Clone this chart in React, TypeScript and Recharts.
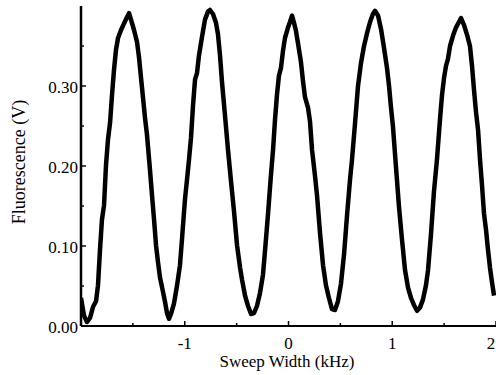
import { LineChart, Line, XAxis, YAxis, Label } from 'recharts';

// Sweep width (kHz)
const sweep = [
  -2.0, -1.971, -1.942, -1.913, -1.884, -1.855, -1.836, -1.817, -1.798, -1.778,
  -1.759, -1.74, -1.72, -1.701, -1.682, -1.663, -1.643, -1.614, -1.586, -1.557,
  -1.537, -1.518, -1.489, -1.46, -1.441, -1.422, -1.402, -1.383, -1.364, -1.335,
  -1.316, -1.296, -1.277, -1.258, -1.239, -1.21, -1.19, -1.171, -1.152, -1.133,
  -1.104, -1.075, -1.046, -1.027, -0.998, -0.978, -0.959, -0.94, -0.92, -0.901,
  -0.882, -0.863, -0.834, -0.805, -0.776, -0.757, -0.728, -0.699, -0.68, -0.66,
  -0.641, -0.612, -0.583, -0.554, -0.525, -0.496, -0.467, -0.448, -0.419, -0.39,
  -0.361, -0.333, -0.304, -0.275, -0.246, -0.227, -0.198, -0.169, -0.149, -0.13,
  -0.111, -0.092, -0.072, -0.053, -0.034, -0.005, 0.014, 0.034, 0.053, 0.072,
  0.092, 0.12, 0.14, 0.159, 0.188, 0.207, 0.227, 0.255, 0.275, 0.304,
  0.333, 0.361, 0.39, 0.419, 0.448, 0.477, 0.506, 0.535, 0.564, 0.593,
  0.612, 0.641, 0.67, 0.699, 0.728, 0.757, 0.786, 0.814, 0.834, 0.863,
  0.892, 0.92, 0.949, 0.969, 0.988, 1.007, 1.036, 1.065, 1.094, 1.123,
  1.152, 1.181, 1.21, 1.239, 1.267, 1.296, 1.325, 1.345, 1.373, 1.402,
  1.431, 1.46, 1.48, 1.499, 1.518, 1.537, 1.557, 1.586, 1.614, 1.643,
  1.663, 1.692, 1.721, 1.749, 1.769, 1.788, 1.807, 1.827, 1.846, 1.865,
  1.884, 1.904, 1.923, 1.942, 1.961, 1.981,
];

// Fluorescence (V)
const fluorescence = [
  0.035, 0.013, 0.005, 0.01, 0.024, 0.031, 0.051, 0.095, 0.133, 0.151,
  0.201, 0.233, 0.254, 0.289, 0.32, 0.345, 0.36, 0.37, 0.378, 0.386,
  0.391, 0.383, 0.37, 0.355, 0.336, 0.311, 0.285, 0.26, 0.239, 0.195,
  0.164, 0.133, 0.101, 0.08, 0.061, 0.043, 0.03, 0.016, 0.009, 0.015,
  0.028, 0.05, 0.076, 0.108, 0.158, 0.183, 0.208, 0.235, 0.276, 0.308,
  0.316, 0.338, 0.361, 0.383, 0.393, 0.395, 0.39, 0.379, 0.365, 0.338,
  0.305, 0.263, 0.22, 0.181, 0.143, 0.101, 0.073, 0.058, 0.038, 0.025,
  0.015, 0.016, 0.025, 0.041, 0.064, 0.093, 0.139, 0.189, 0.22, 0.258,
  0.289, 0.313, 0.323, 0.344, 0.36, 0.373, 0.38, 0.388, 0.379, 0.369,
  0.353, 0.33, 0.306, 0.286, 0.273, 0.256, 0.22, 0.188, 0.163, 0.116,
  0.076, 0.051, 0.035, 0.021, 0.02, 0.031, 0.053, 0.089, 0.138, 0.183,
  0.208, 0.253, 0.3, 0.329, 0.35, 0.366, 0.38, 0.39, 0.394, 0.388,
  0.371, 0.348, 0.323, 0.3, 0.273, 0.249, 0.199, 0.149, 0.108, 0.07,
  0.048, 0.035, 0.026, 0.019, 0.023, 0.033, 0.051, 0.07, 0.114, 0.168,
  0.208, 0.258, 0.289, 0.31, 0.325, 0.334, 0.35, 0.363, 0.373, 0.38,
  0.385, 0.376, 0.364, 0.35, 0.325, 0.295, 0.268, 0.245, 0.208, 0.176,
  0.141, 0.12, 0.095, 0.073, 0.055, 0.038,
];

const xTicks = [-2, -1.5, -1, -0.5, 0, 0.5, 1, 1.5, 2];
const xLabels = ['', '', '-1', '', '0', '', '1', '', '2'];
const yTicks = [0, 0.05, 0.1, 0.15, 0.2, 0.25, 0.3, 0.35];
const yLabels = ['0.00', '', '0.10', '', '0.20', '', '0.30', ''];

const data = sweep.map((s, i) => ({ sweep: s, value: fluorescence[i] }));

const SERIF = 'Liberation Serif';

function XTick(props: any) {
  const { x, y, index } = props;
  const label = xLabels[index];
  const len = label ? 5 : 3;
  // keep the last label inside the frame
  const tx = index === xTicks.length - 1 ? x - 5 : x;
  return (
    <g>
      <line x1={x} x2={x} y1={y} y2={y - len} stroke="#000" strokeWidth={1.5} />
      {label && (
        <text x={tx} y={y + 23} textAnchor="middle" fontFamily={SERIF} fontSize={17} fill="#000">
          {label}
        </text>
      )}
    </g>
  );
}

function YTick(props: any) {
  const { x, y, index } = props;
  const label = yLabels[index];
  const len = label ? 5 : 3;
  return (
    <g>
      <line x1={x} x2={x + len} y1={y} y2={y} stroke="#000" strokeWidth={1.5} />
      {label && (
        <text x={x - 3} y={y + 7} textAnchor="end" fontFamily={SERIF} fontSize={17} fill="#000">
          {label}
        </text>
      )}
    </g>
  );
}

export default function App() {
  return (
    <div style={{ position: 'absolute', left: 0, top: 0, background: '#fff', fontFamily: 'Liberation Serif, serif' }}>
      <LineChart width={496} height={375} data={data} margin={{ top: 6, right: 0, bottom: 0, left: 0 }}>
        <XAxis
          dataKey="sweep"
          type="number"
          domain={[-2, 2]}
          ticks={xTicks}
          interval={0}
          height={49}
          tickSize={0}
          tickMargin={0}
          tickLine={false}
          tick={<XTick />}
          axisLine={{ stroke: '#000', strokeWidth: 2 }}
          allowDataOverflow
        >
          <Label
            content={() => (
              <text x={287} y={367} textAnchor="middle" fontFamily={SERIF} fontSize={17} fill="#000">
                Sweep Width (kHz)
              </text>
            )}
          />
        </XAxis>
        <YAxis
          type="number"
          domain={[0, 0.4]}
          ticks={yTicks}
          interval={0}
          width={81}
          tickSize={0}
          tickMargin={0}
          tickLine={false}
          tick={<YTick />}
          axisLine={{ stroke: '#000', strokeWidth: 2.5 }}
          allowDataOverflow
        >
          <Label
            content={() => (
              <text
                x={25}
                y={162}
                transform="rotate(-90 25 162)"
                textAnchor="middle"
                fontFamily={SERIF}
                fontSize={18}
                fill="#000"
              >
                Fluorescence (V)
              </text>
            )}
          />
        </YAxis>
        <Line
          type="linear"
          dataKey="value"
          stroke="#000"
          strokeWidth={4.5}
          strokeLinejoin="round"
          dot={false}
          isAnimationActive={false}
        />
      </LineChart>
    </div>
  );
}
